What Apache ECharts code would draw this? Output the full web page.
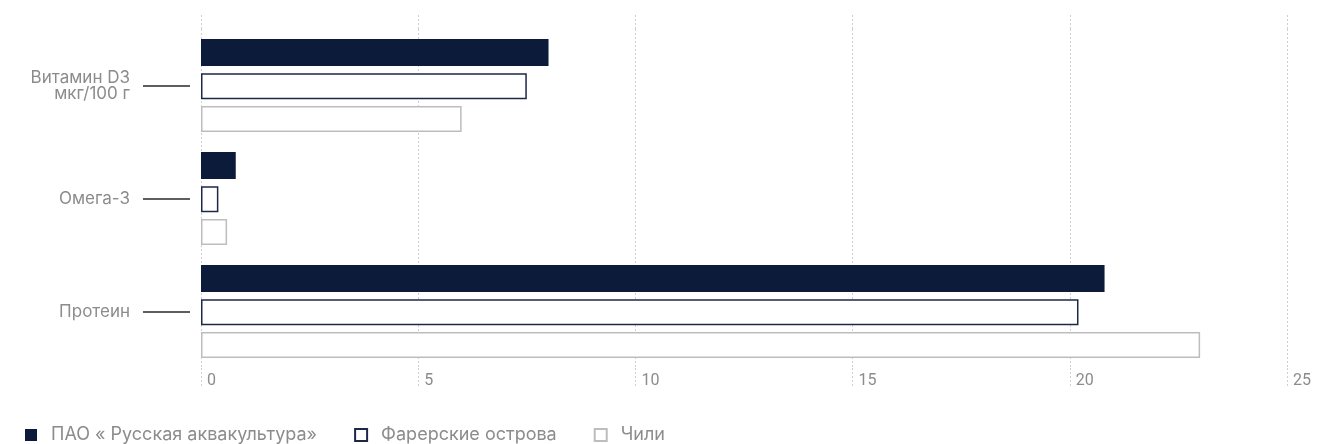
<!DOCTYPE html>
<html>
<head>
<meta charset="utf-8">
<style>
  html, body { margin: 0; padding: 0; background: #ffffff; }
  #chart { width: 1332px; height: 444px; }
</style>
<script src="https://cdn.jsdelivr.net/npm/echarts@6/dist/echarts.min.js"></script>
</head>
<body>
<div id="chart"></div>
<script>
  // категории (сверху вниз)
  var categories = ['Витамин D3\nмкг/100 г', 'Омега-3', 'Протеин'];
  var seriesNames = ['ПАО « Русская аквакультура»', 'Фарерские острова', 'Чили'];
  var dataRusAqua = [8.0, 0.8, 20.8];
  var dataFaroe = [7.5, 0.4, 20.2];
  var dataChile = [6.0, 0.6, 23.0];
  var xMin = 0, xMax = 25, xStep = 5;

  var textGray = '#8c8c8c';
  var gridDash = { color: '#cfcfcf', type: [2, 2], width: 1 };

  var myChart = echarts.init(document.getElementById('chart'));
  var option = {
    animation: false,
    textStyle: { fontFamily: 'Inter' },
    grid: [
      { left: 201, right: 45, top: 29, bottom: 76 },
      // узкая сетка только для выносных линий у подписей
      { left: 190, width: 1, top: 29, bottom: 76 }
    ],
    legend: {
      left: 25,
      top: 426,
      padding: 0,
      itemWidth: 12,
      itemHeight: 12,
      itemGap: 37,
      icon: 'rect',
      textStyle: { color: textGray, fontSize: 18, fontFamily: 'Inter', padding: [0, 0, 0, 9] },
      data: seriesNames
    },
    xAxis: [
      {
        type: 'value',
        gridIndex: 0,
        position: 'bottom',
        min: xMin, max: xMax, interval: xStep,
        axisLine: { show: false },
        axisTick: { show: true, length: 20, lineStyle: gridDash },
        splitLine: { show: true, lineStyle: gridDash },
        axisLabel: {
          color: textGray, fontSize: 16, fontFamily: 'Roboto', align: 'left', margin: 5,
          padding: [0, 0, 0, 6]
        }
      },
      {
        type: 'value',
        gridIndex: 0,
        position: 'top',
        min: xMin, max: xMax, interval: xStep,
        axisLine: { show: false },
        axisTick: { show: true, length: 14, lineStyle: gridDash },
        splitLine: { show: false },
        axisLabel: { show: false }
      },
      {
        type: 'value',
        gridIndex: 1,
        show: false
      }
    ],
    yAxis: [
      {
        type: 'category',
        gridIndex: 0,
        inverse: true,
        data: categories,
        axisLine: { show: false },
        axisTick: { show: false },
        axisLabel: { color: textGray, fontSize: 17, lineHeight: 16, margin: 71, align: 'right', fontFamily: 'Inter' }
      },
      {
        type: 'category',
        gridIndex: 1,
        inverse: true,
        data: categories,
        axisLine: { show: false },
        axisLabel: { show: false },
        axisTick: { show: true, alignWithLabel: true, length: 47, lineStyle: { color: '#2a2a2a', width: 1.5 } }
      }
    ],
    series: [
      {
        name: seriesNames[0], type: 'bar', xAxisIndex: 0, yAxisIndex: 0,
        barWidth: 27, barGap: '26%',
        itemStyle: { color: '#0d1b3b' },
        data: dataRusAqua
      },
      {
        name: seriesNames[1], type: 'bar', xAxisIndex: 0, yAxisIndex: 0,
        barWidth: 26,
        itemStyle: { color: '#ffffff', borderColor: '#1d2847', borderWidth: 1.5 },
        data: dataFaroe
      },
      {
        name: seriesNames[2], type: 'bar', xAxisIndex: 0, yAxisIndex: 0,
        barWidth: 26,
        itemStyle: { color: '#ffffff', borderColor: '#bdbdbd', borderWidth: 1.5 },
        data: dataChile
      }
    ]
  };
  myChart.setOption(option);
  window.addEventListener('resize', function () { myChart.resize(); });
</script>
</body>
</html>
